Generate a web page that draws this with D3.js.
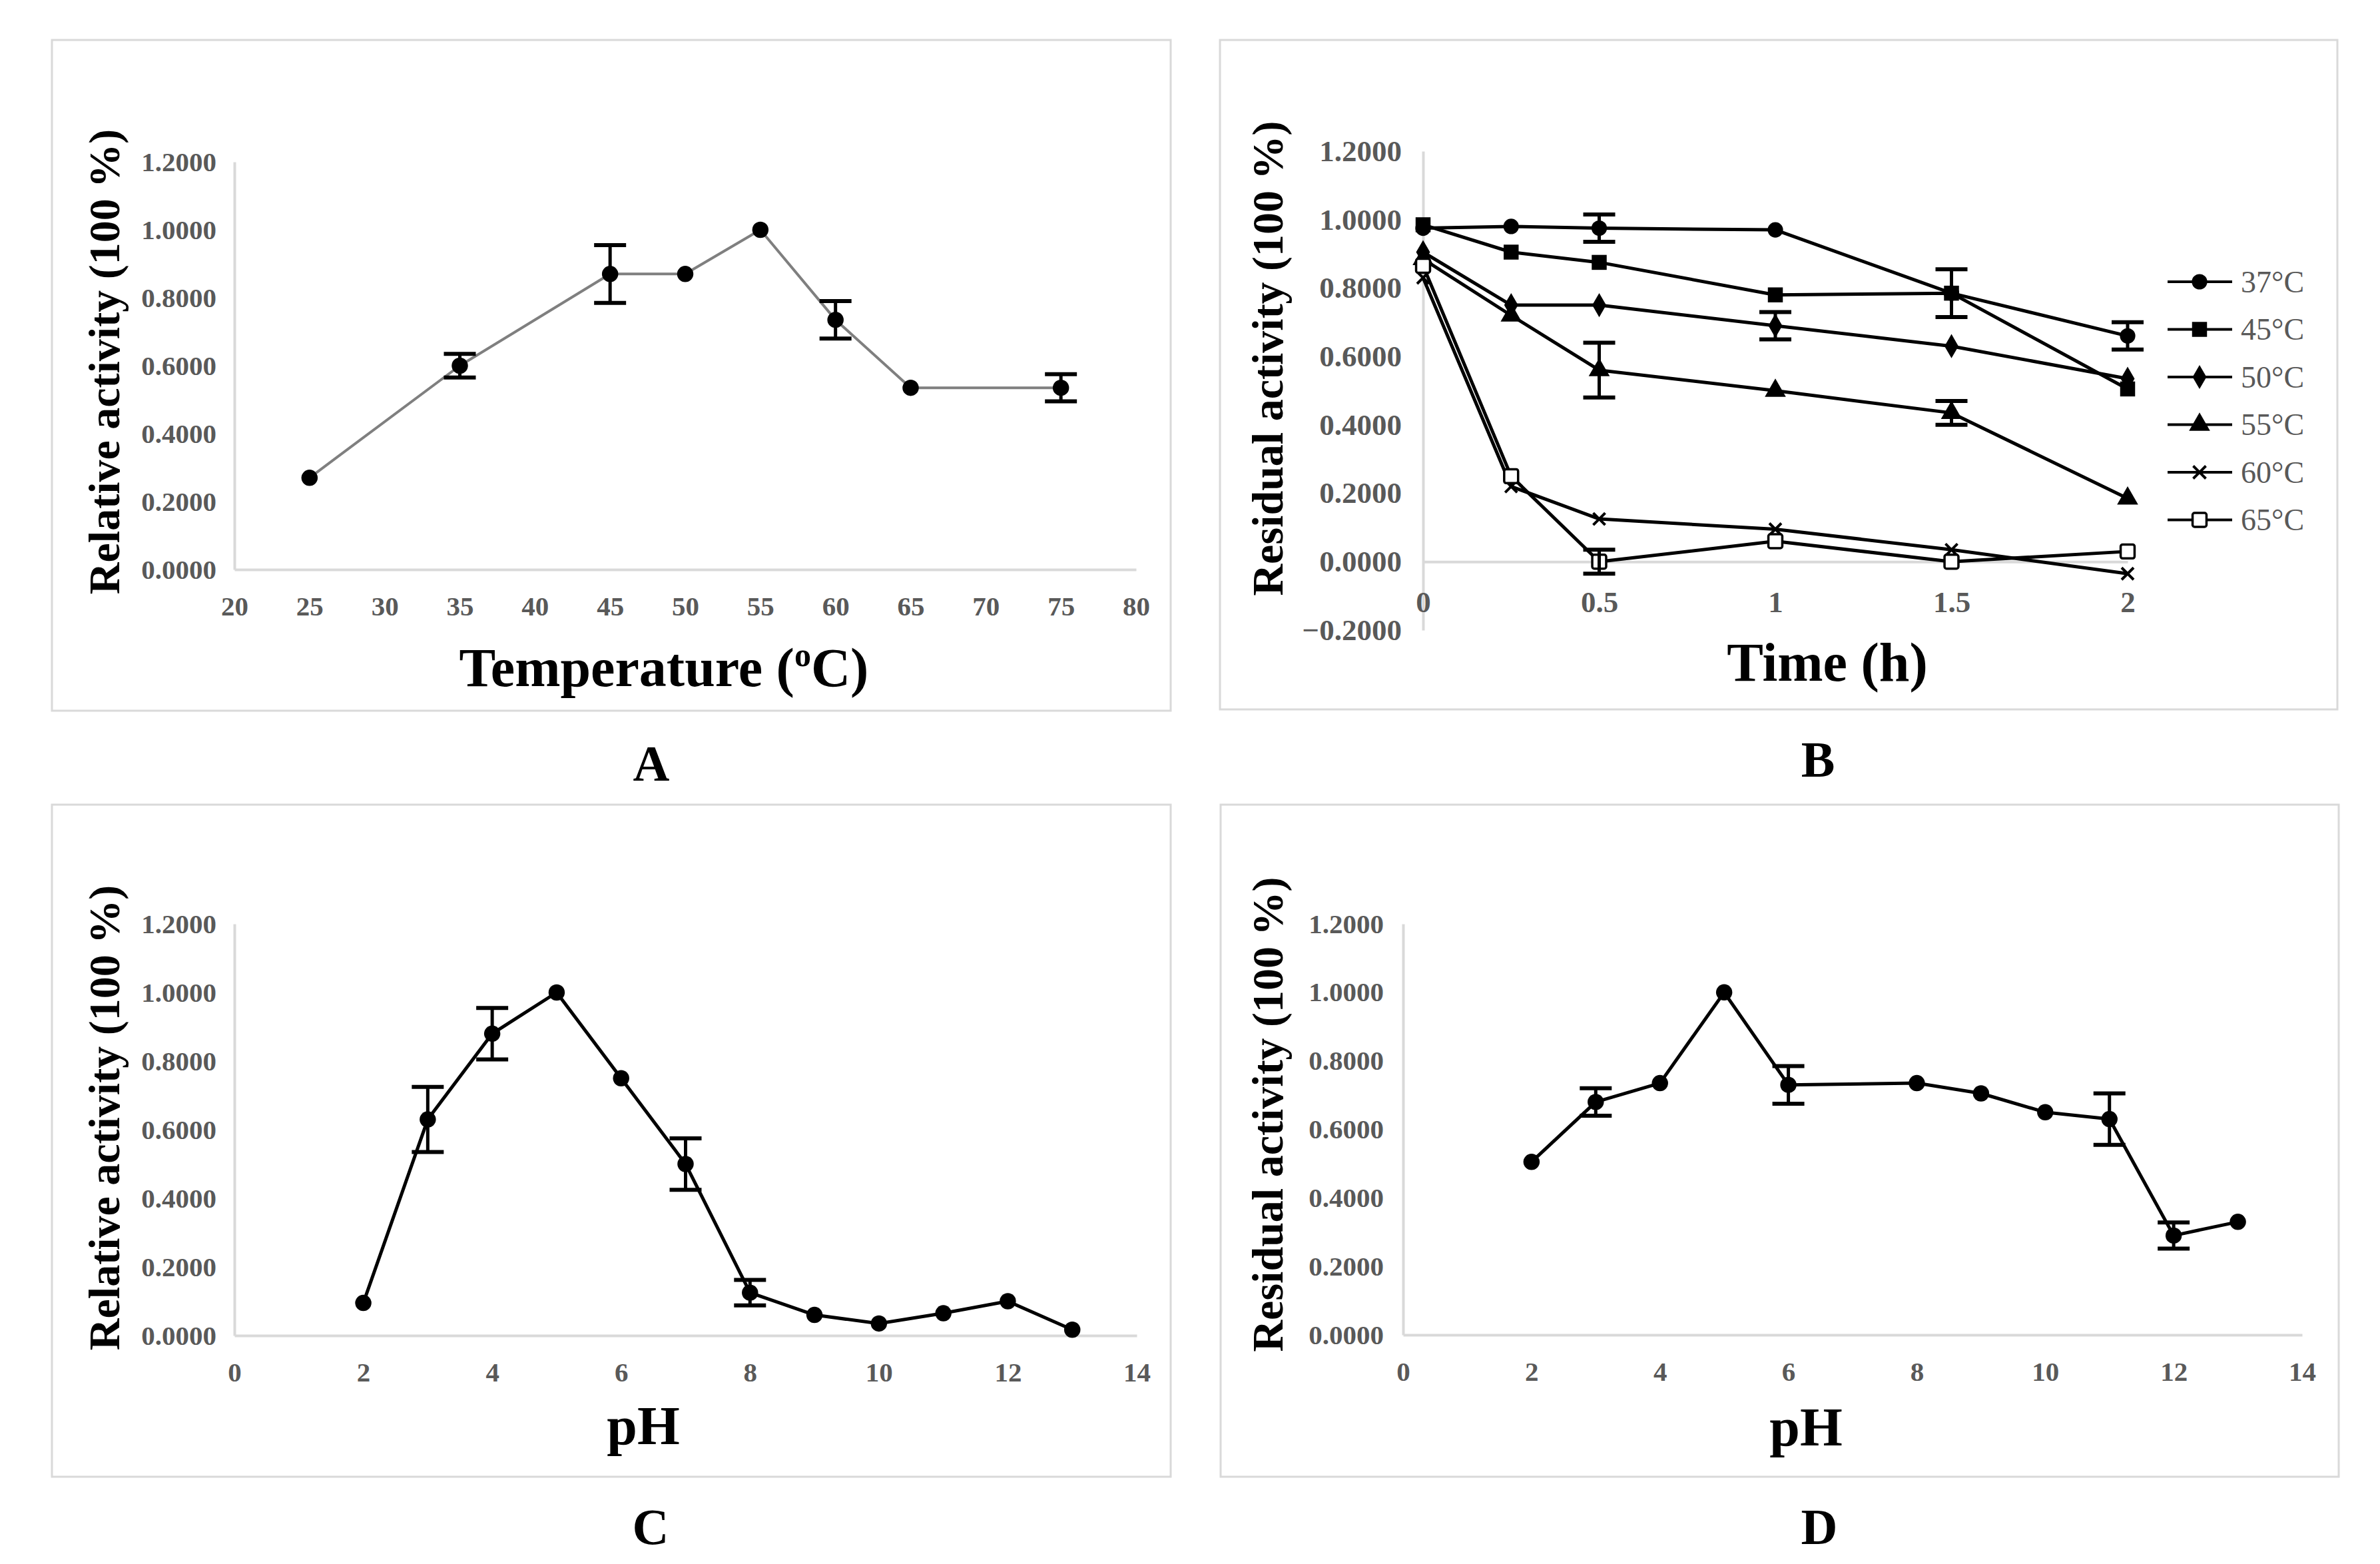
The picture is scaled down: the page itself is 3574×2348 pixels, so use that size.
<!DOCTYPE html>
<html>
<head>
<meta charset="utf-8">
<script src="https://cdn.jsdelivr.net/npm/d3@7"></script>
<style>
  html, body { margin: 0; padding: 0; background: #fff; }
  svg { display: block; }
</style>
</head>
<body>
<div id="chart"></div>
<script>
// ---- data ----
var tempX = [25, 35, 45, 50, 55, 60, 65, 75];
var tempAct = [0.27, 0.60, 0.87, 0.87, 1.00, 0.735, 0.535, 0.535];
var tempErr = [0, 0.035, 0.085, 0, 0, 0.055, 0, 0.04];
var tempTicks = [20, 25, 30, 35, 40, 45, 50, 55, 60, 65, 70, 75, 80];

var timeX = [0, 0.25, 0.5, 1, 1.5, 2];
var timeTicks = [0, 0.5, 1, 1.5, 2];
var stabNames = ["37\u00B0C", "45\u00B0C", "50\u00B0C", "55\u00B0C", "60\u00B0C", "65\u00B0C"];
var act37 = [0.975, 0.98, 0.975, 0.97, 0.785, 0.66];
var err37 = [0, 0, 0.04, 0, 0.07, 0.04];
var act45 = [0.985, 0.905, 0.875, 0.78, 0.785, 0.505];
var err45 = [0, 0, 0, 0, 0, 0];
var act50 = [0.905, 0.75, 0.75, 0.69, 0.63, 0.535];
var err50 = [0, 0, 0, 0.04, 0, 0];
var act55 = [0.885, 0.72, 0.56, 0.50, 0.435, 0.185];
var err55 = [0, 0, 0.08, 0, 0.035, 0];
var act60 = [0.83, 0.22, 0.125, 0.095, 0.035, -0.035];
var err60 = [0, 0, 0, 0, 0, 0];
var act65 = [0.865, 0.25, 0.0, 0.06, 0.0, 0.03];
var err65 = [0, 0, 0.035, 0, 0, 0];

var phTicks = [0, 2, 4, 6, 8, 10, 12, 14];
var phC = [2, 3, 4, 5, 6, 7, 8, 9, 10, 11, 12, 13];
var actC = [0.095, 0.63, 0.88, 1.0, 0.75, 0.50, 0.125, 0.06, 0.035, 0.065, 0.10, 0.017];
var errC = [0, 0.095, 0.075, 0, 0, 0.075, 0.037, 0, 0, 0, 0, 0];
var phD = [2, 3, 4, 5, 6, 8, 9, 10, 11, 12, 13];
var actD = [0.505, 0.68, 0.735, 1.0, 0.73, 0.735, 0.705, 0.65, 0.63, 0.29, 0.33];
var errD = [0, 0.04, 0, 0, 0.055, 0, 0, 0, 0.075, 0.038, 0];

var yTicks = [0, 0.2, 0.4, 0.6, 0.8, 1.0, 1.2];
var yTicksB = [-0.2, 0, 0.2, 0.4, 0.6, 0.8, 1.0, 1.2];

// ---- page ----
var W = 3574, H = 2348;
var serif = "'Liberation Serif', 'Times New Roman', serif";
var svg = d3.select("#chart").append("svg")
    .attr("width", W)
    .attr("height", H);
svg.append("rect").attr("width", W).attr("height", H).attr("fill", "#fff");

function zip(xs, ys, es) {
	return xs.map(function(x, i) { return { x: x, y: ys[i], e: es ? es[i] : 0 }; });
}

function drawMarker(sel, kind, size) {
	var s = size || 1;
	if (kind == "x") {
		var r = 10 * s;
		sel.append("path")
		  .attr("d", "M" + (-r) + "," + (-r) + "L" + r + "," + r + "M" + (-r) + "," + r + "L" + r + "," + (-r))
		  .attr("stroke", "#000").attr("stroke-width", 4).attr("fill", "none");
	} else if (kind == "open") {
		var h = 11 * s;
		sel.append("rect")
		  .attr("x", -h).attr("y", -h).attr("width", 2 * h).attr("height", 2 * h).attr("rx", 3)
		  .attr("fill", "#fff").attr("stroke", "#000").attr("stroke-width", 3.5);
	} else {
		var types = { circle: d3.symbolCircle, square: d3.symbolSquare, diamond: d3.symbolDiamond, triangle: d3.symbolTriangle };
		var sizes = { circle: 470, square: 560, diamond: 420, triangle: 480 };
		sel.append("path")
		  .attr("d", d3.symbol().type(types[kind]).size(sizes[kind] * s * s)())
		  .attr("fill", "#000");
	}
}

function panel(o) {
	// frame
	svg.append("rect")
	  .attr("x", o.frame[0]).attr("y", o.frame[1])
	  .attr("width", o.frame[2] - o.frame[0]).attr("height", o.frame[3] - o.frame[1])
	  .attr("fill", "#fff").attr("stroke", "#d9d9d9").attr("stroke-width", 3);

	var x = d3.scaleLinear().domain(o.xDomain).range(o.xRange);
	var y = d3.scaleLinear().domain(o.yDomain).range(o.yRange);

	var yAxis = svg.append("g")
	  .attr("transform", "translate(" + o.xRange[0] + ",0)")
	  .call(d3.axisLeft(y).tickValues(o.yTicks).tickFormat(d3.format(".4f"))
	    .tickSize(0).tickSizeOuter(0).tickPadding(o.yPad));
	var xAxis = svg.append("g")
	  .attr("transform", "translate(0," + y(0) + ")")
	  .call(d3.axisBottom(x).tickValues(o.xTicks).tickFormat(function(d) { return d; })
	    .tickSize(0).tickSizeOuter(0).tickPadding(o.xPad));
	[xAxis, yAxis].forEach(function(a) {
		a.select(".domain").attr("stroke", "#d9d9d9").attr("stroke-width", 4);
		a.selectAll("text")
		  .attr("font-family", serif).attr("font-weight", "bold")
		  .attr("font-size", o.tickFont).attr("fill", "#595959");
	});

	// axis titles
	svg.append("text")
	  .attr("transform", "translate(" + o.yTitlePos[0] + "," + o.yTitlePos[1] + ") rotate(-90)")
	  .attr("text-anchor", "middle").attr("dominant-baseline", "central")
	  .attr("font-family", serif).attr("font-weight", "bold").attr("font-size", 66)
	  .text(o.yTitle);
	var xt = svg.append("text")
	  .attr("x", o.xTitlePos[0]).attr("y", o.xTitlePos[1])
	  .attr("text-anchor", "middle")
	  .attr("font-family", serif).attr("font-weight", "bold").attr("font-size", 82);
	if (o.xTitleSup) {
		xt.append("tspan").text(o.xTitle[0]);
		xt.append("tspan").attr("font-size", 50).attr("dy", -30).text(o.xTitleSup);
		xt.append("tspan").attr("dy", 30).text(o.xTitle[1]);
	} else {
		xt.text(o.xTitle);
	}
	svg.append("text")
	  .attr("x", o.letterPos[0]).attr("y", o.letterPos[1])
	  .attr("text-anchor", "middle")
	  .attr("font-family", serif).attr("font-weight", "bold").attr("font-size", 76)
	  .text(o.letter);

	var line = d3.line().x(function(d) { return x(d.x); }).y(function(d) { return y(d.y); });

	o.series.forEach(function(s) {
		svg.append("path")
		  .datum(s.data)
		  .attr("d", line)
		  .attr("fill", "none")
		  .attr("stroke", s.color || "#000")
		  .attr("stroke-width", s.width || 5)
		  .attr("stroke-linejoin", "round");
	});
	o.series.forEach(function(s) {
		var pts = svg.append("g").selectAll("g")
		  .data(s.data)
		  .enter().append("g")
		  .attr("transform", function(d) { return "translate(" + x(d.x) + "," + y(d.y) + ")"; });
		pts.each(function() { drawMarker(d3.select(this), s.marker, s.msize); });
	});
	// error bars on top
	o.series.forEach(function(s) {
		var eb = svg.append("g").selectAll("g")
		  .data(s.data.filter(function(d) { return d.e > 0; }))
		  .enter().append("g");
		eb.append("line")
		  .attr("x1", function(d) { return x(d.x); }).attr("x2", function(d) { return x(d.x); })
		  .attr("y1", function(d) { return y(d.y - d.e); }).attr("y2", function(d) { return y(d.y + d.e); })
		  .attr("stroke", "#000").attr("stroke-width", 5);
		[-1, 1].forEach(function(sg) {
			eb.append("line")
			  .attr("x1", function(d) { return x(d.x) - 24; }).attr("x2", function(d) { return x(d.x) + 24; })
			  .attr("y1", function(d) { return y(d.y + sg * d.e); }).attr("y2", function(d) { return y(d.y + sg * d.e); })
			  .attr("stroke", "#000").attr("stroke-width", 6);
		});
	});

	if (o.legend) {
		o.legend.forEach(function(s, i) {
			var ly = 423 + i * 71.5;
			var lg = svg.append("g").attr("transform", "translate(3303," + ly + ")");
			lg.append("line").attr("x1", -48).attr("x2", 49).attr("stroke", "#000").attr("stroke-width", 4);
			drawMarker(lg, s.marker, 0.95);
			lg.append("text")
			  .attr("x", 62).attr("dominant-baseline", "central")
			  .attr("font-family", serif).attr("font-size", 46).attr("fill", "#595959")
			  .text(s.name);
		});
	}
}

// A - temperature optimum
panel({
	frame: [78, 60, 1758, 1067],
	xDomain: [20, 80], xRange: [352, 1706],
	yDomain: [0, 1.2], yRange: [855, 243],
	xTicks: tempTicks, yTicks: yTicks, tickFont: 41, yPad: 27, xPad: 40,
	yTitle: "Relative activity (100 %)", yTitlePos: [156, 543],
	xTitle: ["Temperature (", "C)"], xTitleSup: "o", xTitlePos: [997, 1030],
	letter: "A", letterPos: [978, 1172],
	series: [{ data: zip(tempX, tempAct, tempErr), marker: "circle", color: "#7f7f7f", width: 4 }]
});

// B - thermal stability
var seriesB = [
	{ name: stabNames[0], data: zip(timeX, act37, err37), marker: "circle", msize: 0.95 },
	{ name: stabNames[1], data: zip(timeX, act45, err45), marker: "square", msize: 0.95 },
	{ name: stabNames[2], data: zip(timeX, act50, err50), marker: "diamond", msize: 0.95 },
	{ name: stabNames[3], data: zip(timeX, act55, err55), marker: "triangle", msize: 0.95 },
	{ name: stabNames[4], data: zip(timeX, act60, err60), marker: "x", msize: 0.9 },
	{ name: stabNames[5], data: zip(timeX, act65, err65), marker: "open", msize: 0.95 }
];
panel({
	frame: [1832, 60, 3510, 1065],
	xDomain: [0, 2], xRange: [2137, 3195],
	yDomain: [-0.2, 1.2], yRange: [946, 227],
	xTicks: timeTicks, yTicks: yTicksB, tickFont: 45, yPad: 32, xPad: 44,
	yTitle: "Residual activity (100 %)", yTitlePos: [1903, 538],
	xTitle: "Time (h)", xTitlePos: [2744, 1022],
	letter: "B", letterPos: [2730, 1166],
	series: seriesB, legend: seriesB
});

// C - pH optimum
panel({
	frame: [78, 1208, 1758, 2217],
	xDomain: [0, 14], xRange: [352, 1707],
	yDomain: [0, 1.2], yRange: [2005, 1387],
	xTicks: phTicks, yTicks: yTicks, tickFont: 41, yPad: 27, xPad: 40,
	yTitle: "Relative activity (100 %)", yTitlePos: [156, 1678],
	xTitle: "pH", xTitlePos: [966, 2168],
	letter: "C", letterPos: [977, 2318],
	series: [{ data: zip(phC, actC, errC), marker: "circle" }]
});

// D - pH stability
panel({
	frame: [1833, 1208, 3512, 2217],
	xDomain: [0, 14], xRange: [2107, 3457],
	yDomain: [0, 1.2], yRange: [2004, 1387],
	xTicks: phTicks, yTicks: yTicks, tickFont: 41, yPad: 29, xPad: 40,
	yTitle: "Residual activity (100 %)", yTitlePos: [1903, 1673],
	xTitle: "pH", xTitlePos: [2712, 2170],
	letter: "D", letterPos: [2732, 2318],
	series: [{ data: zip(phD, actD, errD), marker: "circle" }]
});
</script>
</body>
</html>
